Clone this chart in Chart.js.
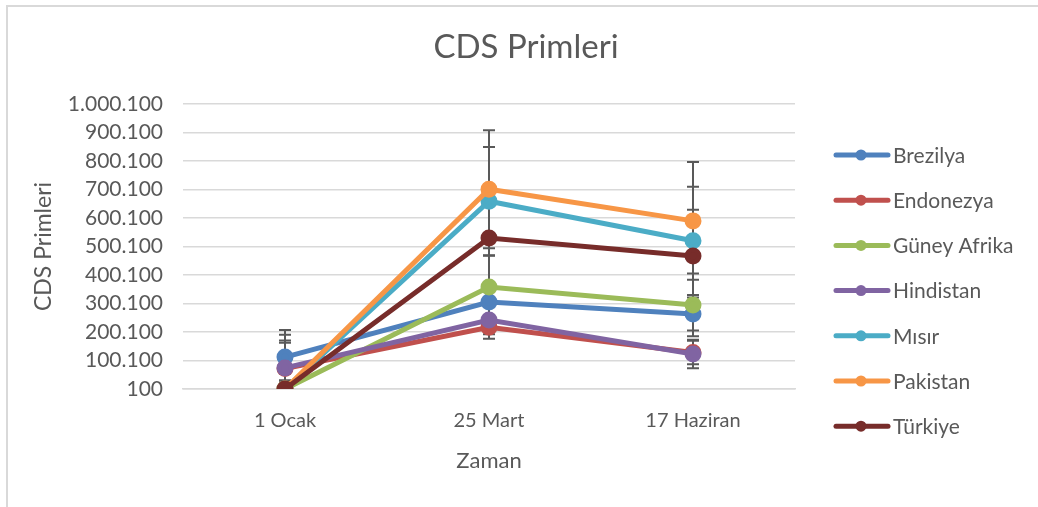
<!DOCTYPE html>
<html>
<head>
<meta charset="utf-8">
<script src="https://cdn.jsdelivr.net/npm/chart.js@4.4.0/dist/chart.umd.min.js"></script>
<style>
    body { margin: 0; background: #fff; }
    #wrap { position: relative; width: 1038px; height: 507px; overflow: hidden; }
    #frame {
        position: absolute; left: 6px; top: 5px; width: 1100px; height: 600px;
        border-top: 2px solid #d9d9d9; border-left: 2px solid #d9d9d9;
        pointer-events: none;
    }
</style>
</head>
<body>
<div id="wrap">
    <canvas id="cdsChart" width="1038" height="507"></canvas>
    <div id="frame"></div>
</div>
<script>
// Data
const dates = ['1 Ocak', '25 Mart', '17 Haziran'];
const countries = ['Brezilya', 'Endonezya', 'Güney Afrika', 'Hindistan', 'Mısır', 'Pakistan', 'Türkiye'];
const colors = ['#4F81BD', '#C0504D', '#9BBB59', '#8064A2', '#4BACC6', '#F79646', '#772C2A'];

const brezilya = [112000, 305000, 263000];
const endonezya = [72000, 217000, 128000];
const guneyAfrika = [100, 358000, 295000];
const hindistan = [74000, 242000, 123000];
const misir = [100, 659000, 520000];
const pakistan = [100, 701000, 590000];
const turkiye = [100, 530000, 467000];
const seriesValues = [brezilya, endonezya, guneyAfrika, hindistan, misir, pakistan, turkiye];

// Error bar sizes (+/-) per series
const errorSizes = [58000, 41000, 110000, 50000, 190000, 207000, 162000];

const yTicks = [100, 100100, 200100, 300100, 400100, 500100, 600100, 700100, 800100, 900100, 1000100];

const textColor = '#595959';
const fontFamily = 'Lato, "Open Sans", sans-serif';

function formatNumber(v) {
    return String(v).replace(/\B(?=(\d{3})+(?!\d))/g, '.');
}

// Error bars drawn under the lines
const errorBarPlugin = {
    id: 'errorBars',
    beforeDatasetsDraw(chart) {
        const { ctx, chartArea, scales } = chart;
        ctx.save();
        ctx.beginPath();
        ctx.rect(chartArea.left, chartArea.top - 2, chartArea.right - chartArea.left, chartArea.bottom - chartArea.top + 2);
        ctx.clip();
        ctx.strokeStyle = textColor;
        ctx.lineWidth = 2;
        chart.data.datasets.forEach((ds, i) => {
            const err = errorSizes[i];
            ds.data.forEach((v, j) => {
                const x = scales.x.getPixelForValue(j);
                const yTop = scales.y.getPixelForValue(v + err);
                const yBot = scales.y.getPixelForValue(v - err);
                ctx.beginPath();
                ctx.moveTo(x, yTop);
                ctx.lineTo(x, yBot);
                ctx.moveTo(x - 6, yTop);
                ctx.lineTo(x + 6, yTop);
                ctx.moveTo(x - 6, yBot);
                ctx.lineTo(x + 6, yBot);
                ctx.stroke();
            });
        });
        ctx.restore();
    }
};

// Title and legend laid out like the Excel original
const titleLegendPlugin = {
    id: 'titleLegend',
    afterDraw(chart) {
        const ctx = chart.ctx;
        ctx.save();
        ctx.fillStyle = textColor;
        ctx.font = '33px ' + fontFamily;
        ctx.textAlign = 'center';
        ctx.textBaseline = 'alphabetic';
        ctx.fillText('CDS Primleri', 526, 58);

        ctx.font = '21px ' + fontFamily;
        ctx.textAlign = 'left';
        ctx.textBaseline = 'middle';
        chart.data.datasets.forEach((ds, i) => {
            const y = 155 + i * 45.2;
            ctx.strokeStyle = ds.borderColor;
            ctx.lineWidth = 5;
            ctx.lineCap = 'round';
            ctx.beginPath();
            ctx.moveTo(836, y);
            ctx.lineTo(888, y);
            ctx.stroke();
            ctx.fillStyle = ds.borderColor;
            ctx.beginPath();
            ctx.arc(861, y, 5.5, 0, Math.PI * 2);
            ctx.fill();
            ctx.fillStyle = textColor;
            ctx.fillText(ds.label, 893, y + 1);
        });
        ctx.restore();
    }
};

const ctx = document.getElementById('cdsChart').getContext('2d');
const cdsChart = new Chart(ctx, {
    type: 'line',
    data: {
        labels: dates,
        datasets: countries.map((name, i) => ({
            label: name,
            data: seriesValues[i],
            borderColor: colors[i],
            backgroundColor: colors[i],
            pointBackgroundColor: colors[i],
            pointBorderColor: colors[i],
            pointRadius: 6,
            borderWidth: 5,
            tension: 0,
            order: countries.length - i
        }))
    },
    options: {
        responsive: false,
        animation: false,
        layout: { padding: { left: 0, top: 104, right: 243, bottom: 0 } },
        plugins: {
            legend: { display: false },
            title: { display: false },
            tooltip: { enabled: false }
        },
        scales: {
            x: {
                offset: true,
                grid: { display: false, drawTicks: false },
                border: { display: true, color: '#d9d9d9', width: 1.5 },
                ticks: { color: textColor, padding: 20, font: { family: fontFamily, size: 20 } },
                title: {
                    display: true, text: 'Zaman', color: textColor,
                    font: { family: fontFamily, size: 22 }, padding: { top: 0, bottom: 33 }
                },
                afterFit(scale) { scale.height = 118; }
            },
            y: {
                min: 100,
                max: 1000100,
                afterBuildTicks(scale) { scale.ticks = yTicks.map(v => ({ value: v })); },
                grid: { color: '#d9d9d9', lineWidth: 1.5, drawTicks: false },
                border: { display: false },
                ticks: {
                    color: textColor, padding: 20, autoSkip: false,
                    font: { family: fontFamily, size: 21 },
                    callback: v => formatNumber(v)
                },
                title: {
                    display: true, text: 'CDS Primleri', color: textColor,
                    font: { family: fontFamily, size: 23 }, padding: { top: 30, bottom: 0 }
                },
                afterFit(scale) { scale.width = 183; }
            }
        }
    },
    plugins: [errorBarPlugin, titleLegendPlugin]
});
</script>
</body>
</html>
